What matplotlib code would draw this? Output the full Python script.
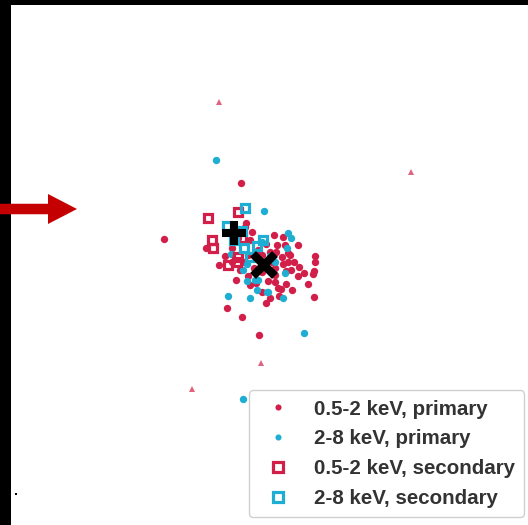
import matplotlib
matplotlib.use("Agg")
import matplotlib.pyplot as plt
import matplotlib.patches as mpatches

plt.rcParams['font.family'] = ['Liberation Sans', 'DejaVu Sans']

W, H = 528, 525

RED = '#d21f49'
BLUE = '#1eaed3'
PINK = '#e0637f'

# Source positions on the sky image (pixel frame)
soft_primary_x = [240.7, 164.0, 205.7, 246.3, 245.0, 273.7, 283.3, 231.7, 250.0, 258.0,
                  266.0, 276.7, 270.0, 285.0, 290.0, 281.7, 275.0, 262.0, 254.0, 248.0,
                  275.0, 268.0, 278.0, 291.0, 298.3, 288.3, 299.3, 315.0, 315.0, 312.7,
                  304.3, 308.3, 314.3, 235.7, 226.7, 241.7, 259.0, 270.0, 280.7, 286.0,
                  292.0, 262.0, 250.0, 244.0, 240.0, 232.0, 258.0, 272.0, 286.0, 298.0,
                  266.0, 276.0, 275.0, 288.3, 314.3, 252.0, 238.0, 262.0, 225.0, 219.0,
                  283.0, 294.0, 256.0, 248.0, 279.0]
soft_primary_y = [183.3, 239.3, 247.7, 223.3, 226.7, 235.3, 236.7, 247.7, 240.0, 250.0,
                  244.0, 245.0, 252.0, 245.0, 255.0, 256.7, 268.0, 272.0, 268.0, 276.0,
                  281.7, 281.0, 288.0, 270.0, 245.0, 253.3, 266.7, 255.7, 261.7, 274.3,
                  273.3, 284.3, 297.3, 280.0, 308.3, 316.7, 335.0, 298.3, 289.3, 284.0,
                  290.0, 292.0, 285.0, 262.0, 270.0, 262.0, 258.0, 262.0, 271.0, 276.0,
                  303.0, 251.7, 275.0, 262.0, 271.0, 232.0, 238.0, 255.0, 256.0, 265.0,
                  264.0, 262.0, 283.0, 255.0, 296.0]

hard_primary_x = [216.3, 264.3, 287.7, 291.0, 228.3, 250.0, 283.3, 304.3, 243.3, 231.0,
                  256.7, 266.7, 286.7, 275.0, 246.7, 261.7, 258.3, 268.3, 285.0, 255.0,
                  242.7, 247.0, 270.0]
hard_primary_y = [160.0, 211.0, 233.3, 238.3, 295.7, 298.3, 298.3, 332.7, 270.0, 254.0,
                  290.0, 291.7, 248.3, 261.7, 281.0, 241.7, 280.0, 291.7, 273.3, 280.0,
                  399.3, 264.0, 256.0]

soft_secondary_x = [207.7, 237.7, 212.3, 213.3, 228.3, 238.3, 242.0, 236.7]
soft_secondary_y = [217.5, 211.7, 239.5, 248.3, 265.0, 257.0, 237.7, 261.7]

hard_secondary_x = [245.0, 226.5, 241.7, 262.7, 244.0, 256.7, 250.0, 234.0]
hard_secondary_y = [207.7, 226.0, 231.3, 240.0, 247.7, 245.7, 257.3, 240.0]

faint_x = [218.7, 411.0, 261.0, 192.0]
faint_y = [101.7, 172.3, 363.0, 389.3]

centroid_plus = (234.3, 232.7)
centroid_cross = (264.3, 264.7)

legend_labels = ['0.5-2 keV, primary', '2-8 keV, primary',
                 '0.5-2 keV, secondary', '2-8 keV, secondary']

fig = plt.figure(figsize=(W / 100, H / 100), dpi=100)
ax = fig.add_axes([0, 0, 1, 1])
ax.set_xlim(0, W)
ax.set_ylim(H, 0)
ax.axis('off')

ax.plot(faint_x, faint_y, ls='none', marker='^', ms=4, color=PINK, mew=0, zorder=2)
h1, = ax.plot(soft_primary_x, soft_primary_y, ls='none', marker='o', ms=5.3,
              color=RED, mew=0, zorder=3, label=legend_labels[0])
h2, = ax.plot(hard_primary_x, hard_primary_y, ls='none', marker='o', ms=5.3,
              color=BLUE, mew=0, zorder=3, label=legend_labels[1])
h3, = ax.plot(soft_secondary_x, soft_secondary_y, ls='none', marker='s', ms=6.2,
              mfc='none', mec=RED, mew=2.3, zorder=4, label=legend_labels[2])
h4, = ax.plot(hard_secondary_x, hard_secondary_y, ls='none', marker='s', ms=6.2,
              mfc='none', mec=BLUE, mew=2.3, zorder=4, label=legend_labels[3])

ax.plot(*centroid_plus, marker='+', ms=17, mew=5.8, color='black', zorder=6)
ax.plot(*centroid_cross, marker='x', ms=15.5, mew=6, color='black', zorder=6)

# arrow pointing at the field
ax.add_patch(mpatches.FancyArrow(0, 209, 48, 0, width=10.5, head_width=30,
                                 head_length=29, length_includes_head=False,
                                 color='#c40000', lw=0, zorder=8))

# frame bands
ax.add_patch(mpatches.Rectangle((0, 0), W, 5, color='black', lw=0, zorder=7))
ax.add_patch(mpatches.Rectangle((0, 0), 11, H, color='black', lw=0, zorder=7))
ax.add_patch(mpatches.Rectangle((14.5, 493), 2.2, 2.2, color='black', lw=0, zorder=7))

leg = ax.legend(handles=[h1, h2, h3, h4], loc='lower right',
                bbox_to_anchor=(524 / W, 1 - 517 / H), bbox_transform=fig.transFigure,
                borderaxespad=0, prop={'weight': 'bold', 'size': 14.8},
                labelcolor='#333333', markerscale=1.0, handlelength=1.9,
                handletextpad=0.8, labelspacing=0.52, borderpad=0.45,
                frameon=True, fancybox=True, edgecolor='#d0d0d0', framealpha=1)
leg.get_frame().set_linewidth(1.0)
for lh in leg.legend_handles[:2]:
    lh.set_markersize(4.4)
for lh in leg.legend_handles[2:]:
    lh.set_markersize(6.5)

fig.savefig('out.png', dpi=100)
